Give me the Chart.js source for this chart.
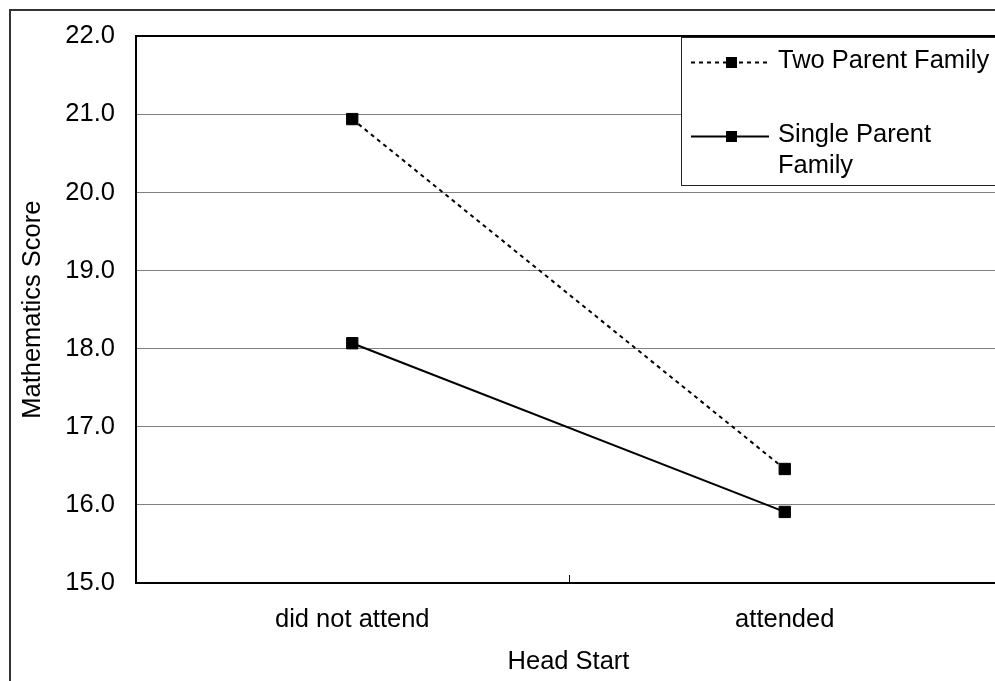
<!DOCTYPE html>
<html>
    <head>
        <script src="https://cdn.jsdelivr.net/npm/chart.js@4"></script>
        <style>
            html, body { margin: 0; padding: 0; overflow: hidden; background: #fff; }
            canvas { display: block; }
        </style>
    </head>
    <body>
        <canvas id="myChart" width="1010" height="681"></canvas>
    </body>
    <script type="text/javascript">
        // values
        var categories = ['did not attend', 'attended'];
        var twoParent = [20.94, 16.46];
        var singleParent = [18.07, 15.91];
        var seriesNames = ['Two Parent Family', 'Single Parent Family'];
        var legendLines = [['Two Parent Family'], ['Single Parent', 'Family']];
        var yTicks = [15, 16, 17, 18, 19, 20, 21, 22];

        var FONT = { family: "'Liberation Sans', Arial, sans-serif", size: 25.5 };

        // frame, excel style legend, inside tick marks
        var extras = {
            id: 'extras',
            afterDraw: function (chart) {
                var ctx = chart.ctx;
                var area = chart.chartArea;
                ctx.save();

                // outer chart frame
                ctx.strokeStyle = '#333';
                ctx.lineWidth = 2;
                ctx.beginPath();
                ctx.moveTo(10, 700);
                ctx.lineTo(10, 10);
                ctx.lineTo(1020, 10);
                ctx.stroke();

                // inside tick marks between categories
                var xs = chart.scales.x;
                ctx.strokeStyle = '#000';
                ctx.lineWidth = 1;
                for (var i = 1; i < categories.length; i++) {
                    var bx = Math.round((xs.getPixelForValue(i - 1) + xs.getPixelForValue(i)) / 2) + 0.5;
                    ctx.beginPath();
                    ctx.moveTo(bx, area.bottom);
                    ctx.lineTo(bx, area.bottom - 8);
                    ctx.stroke();
                }

                // legend box
                ctx.fillStyle = '#fff';
                ctx.fillRect(682, 37, 400, 149);
                ctx.strokeStyle = '#222';
                ctx.lineWidth = 1;
                ctx.strokeRect(681.5, 37.5, 400, 148);

                var rows = [62, 136];
                chart.data.datasets.forEach(function (ds, k) {
                    var y = rows[k] + 0.5;
                    ctx.strokeStyle = ds.borderColor;
                    ctx.lineWidth = ds.borderWidth;
                    ctx.setLineDash(ds.borderDash || []);
                    ctx.beginPath();
                    ctx.moveTo(691, y);
                    ctx.lineTo(769, y);
                    ctx.stroke();
                    ctx.setLineDash([]);
                    ctx.fillStyle = '#000';
                    ctx.fillRect(726, rows[k] - 5, 11, 11);

                    ctx.fillStyle = '#000';
                    ctx.font = FONT.size + 'px ' + FONT.family;
                    ctx.textAlign = 'left';
                    ctx.textBaseline = 'alphabetic';
                    legendLines[k].forEach(function (line, j) {
                        ctx.fillText(line, 778, rows[k] + 5.5 + j * 31.5);
                    });
                });
                ctx.restore();
            }
        };

        var ctx = document.getElementById('myChart').getContext('2d');
        var chart = new Chart(ctx, {
            type: 'line',
            data: {
                labels: categories,
                datasets: [{
                    label: seriesNames[0],
                    data: twoParent,
                    borderColor: '#000',
                    borderWidth: 2,
                    borderDash: [4, 4],
                    pointStyle: 'rect',
                    pointRadius: 8,
                    pointBorderWidth: 1,
                    pointBackgroundColor: '#000',
                    pointBorderColor: '#000',
                    tension: 0
                }, {
                    label: seriesNames[1],
                    data: singleParent,
                    borderColor: '#000',
                    borderWidth: 2,
                    pointStyle: 'rect',
                    pointRadius: 8,
                    pointBorderWidth: 1,
                    pointBackgroundColor: '#000',
                    pointBorderColor: '#000',
                    tension: 0
                }]
            },
            options: {
                responsive: false,
                animation: false,
                layout: { padding: { left: 0, top: 32, right: 7, bottom: 4 } },
                plugins: {
                    legend: { display: false },
                    tooltip: { enabled: false }
                },
                scales: {
                    x: {
                        offset: true,
                        grid: { display: false, drawTicks: false },
                        border: { display: true, color: '#000', width: 2 },
                        ticks: { color: '#000', font: FONT, padding: 22, maxRotation: 0 },
                        title: {
                            display: true, text: 'Head Start', color: '#000', font: FONT,
                            padding: { top: 12, bottom: 0 }
                        },
                        afterFit: function (s) { s.height = 94; }
                    },
                    y: {
                        min: yTicks[0],
                        max: yTicks[yTicks.length - 1],
                        afterBuildTicks: function (s) {
                            s.ticks = yTicks.map(function (v) { return { value: v }; });
                        },
                        grid: {
                            drawTicks: false,
                            color: function (c) { return c.index === yTicks.length - 1 ? '#000' : '#808080'; },
                            lineWidth: function (c) { return c.index === yTicks.length - 1 ? 2 : 1; }
                        },
                        border: { display: true, color: '#000', width: 2 },
                        ticks: {
                            color: '#000', font: FONT, padding: 21,
                            callback: function (v) { return v.toFixed(1); }
                        },
                        title: {
                            display: true, text: 'Mathematics Score', color: '#000', font: FONT,
                            padding: { top: 18, bottom: 0 }
                        },
                        afterFit: function (s) { s.width = 136; }
                    }
                }
            },
            plugins: [extras]
        });
    </script>
</html>
